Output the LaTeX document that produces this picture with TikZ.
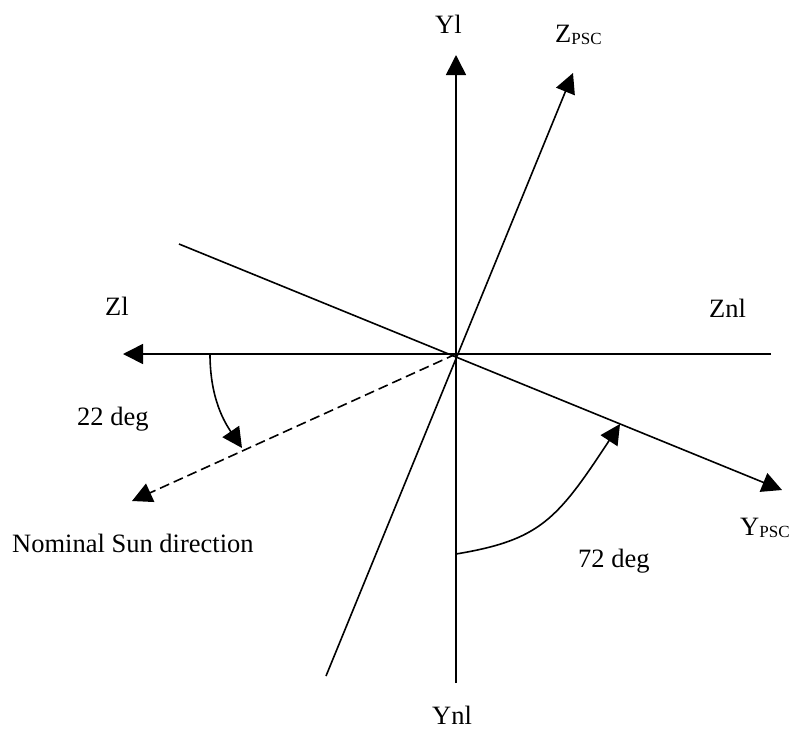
\documentclass[tikz,border=0pt]{standalone}
\usepackage{fontspec,tikz}
\setmainfont{Liberation Serif}
\usetikzlibrary{arrows.meta}
\newcommand{\psc}{\raisebox{-2pt}{\fontsize{17.0}{20.4}\selectfont PSC}}
\begin{document}
\begin{tikzpicture}[x=1pt,y=-1pt,
  axis/.style={line width=1.6pt,-{Triangle[length=20pt,width=20pt]}},
  lbl/.style={anchor=base west,inner sep=0pt,font=\fontsize{26.5}{31.8}\selectfont}]
\path[use as bounding box] (0,0) rectangle (789.0,729.0);
\coordinate (O) at (456,354);
\coordinate (ylEnd) at (456,55);
\coordinate (ynlEnd) at (456,683);
\coordinate (zlEnd) at (123,354);
\coordinate (znlEnd) at (771,354);
\coordinate (zpscEnd) at (573,73);
\coordinate (zpscTail) at (326,676);
\coordinate (ypscEnd) at (782,490);
\coordinate (ypscTail) at (179,244);
\coordinate (sunEnd) at (132,501);
\coordinate (arcZlStart) at (210,354);
\coordinate (arcZlEnd) at (242,448);
\coordinate (arcYnlStart) at (456,554);
\coordinate (arcYnlEnd) at (620,424);
\draw[axis] (ynlEnd) -- (ylEnd);
\draw[axis] (znlEnd) -- (zlEnd);
\draw[axis] (zpscTail) -- (zpscEnd);
\draw[axis] (ypscTail) -- (ypscEnd);
\draw[axis,dash pattern=on 10pt off 5pt] (O) -- (sunEnd);
\draw[axis] (arcZlStart) .. controls (210,399) and (225,423) .. (arcZlEnd);
\draw[axis] (arcYnlStart) .. controls (540,540) and (557,520) .. (arcYnlEnd);
\node[lbl] (labelYl) at (435,33) {Yl};
\node[lbl] (labelZpsc) at (555,42) {Z\psc};
\node[lbl] (labelZl) at (105,315) {Zl};
\node[lbl] (labelZnl) at (709,317) {Znl};
\node[lbl] (labelSunAngle) at (77,425) {22 deg};
\node[lbl] (labelSun) at (12,552) {Nominal Sun direction};
\node[lbl] (labelYpsc) at (740,535) {Y\psc};
\node[lbl] (labelYnlAngle) at (578,567) {72 deg};
\node[lbl] (labelYnl) at (432,724) {Ynl};
\end{tikzpicture}
\end{document}
